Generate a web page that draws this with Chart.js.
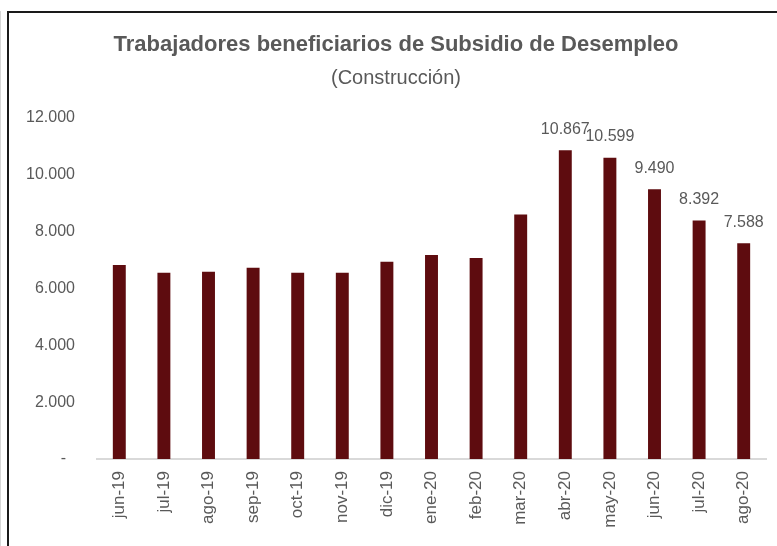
<!DOCTYPE html>
<html>
<head>
<meta charset="utf-8">
<script src="https://cdn.jsdelivr.net/npm/chart.js@4"></script>
<style>
  body { margin: 0; background: #fff; }
  #wrap { position: relative; width: 777px; height: 546px; overflow: hidden; }
  #frame { position: absolute; left: 7px; top: 11px; width: 780px; height: 560px;
           border-top: 2px solid #1a1a1a; border-left: 2px solid #1a1a1a; }
  #shade { position: absolute; left: 0; top: 11px; width: 1px; height: 560px; background: #d6d6d6; }
  canvas { position: absolute; left: 0; top: 0; }
</style>
</head>
<body>
<div id="wrap">
  <div id="shade"></div>
  <div id="frame"></div>
  <canvas id="myChart" width="777" height="546"></canvas>
</div>
<script>
const months = ["jun-19", "jul-19", "ago-19", "sep-19", "oct-19", "nov-19", "dic-19",
                "ene-20", "feb-20", "mar-20", "abr-20", "may-20", "jun-20", "jul-20", "ago-20"];
const trabajadores = [6830, 6550, 6590, 6730, 6550, 6550, 6940,
                      7180, 7070, 8600, 10867, 10599, 9490, 8392, 7588];
// only the last months carry a value label in the original
const labeledMonths = ["abr-20", "may-20", "jun-20", "jul-20", "ago-20"];
const yTicks = [0, 2000, 4000, 6000, 8000, 10000, 12000];

const titleText = "Trabajadores beneficiarios de Subsidio de Desempleo";
const subtitleText = "(Construcción)";

const grey = "#595959";
const fontFam = "'Liberation Sans', Arial, sans-serif";

function fmt(v) {
    if (v === 0) return "-  ";
    return v.toString().replace(/\B(?=(\d{3})+(?!\d))/g, ".");
}

const titlesPlugin = {
    id: "titles",
    afterDraw(chart) {
        const ctx = chart.ctx;
        ctx.save();
        ctx.fillStyle = grey;
        ctx.textAlign = "center";
        ctx.textBaseline = "middle";
        ctx.font = "bold 22px " + fontFam;
        ctx.fillText(titleText, 396, 45);
        ctx.font = "20px " + fontFam;
        ctx.fillText(subtitleText, 396, 78);
        ctx.restore();
    }
};

const valueLabels = {
    id: "valueLabels",
    afterDatasetsDraw(chart) {
        const ctx = chart.ctx;
        const meta = chart.getDatasetMeta(0);
        ctx.save();
        ctx.fillStyle = grey;
        ctx.font = "16px " + fontFam;
        ctx.textAlign = "center";
        ctx.textBaseline = "middle";
        meta.data.forEach((bar, i) => {
            if (!labeledMonths.includes(months[i])) return;
            ctx.fillText(fmt(trabajadores[i]), bar.x, bar.y - 21);
        });
        ctx.restore();
    }
};

const myChartRef = document.getElementById("myChart").getContext("2d");
new Chart(myChartRef, {
    type: "bar",
    data: {
        labels: months,
        datasets: [
            {
                label: "Trabajadores",
                backgroundColor: "#5e0c0f",
                data: trabajadores,
                categoryPercentage: 1,
                barPercentage: 0.29
            }
        ]
    },
    options: {
        responsive: false,
        animation: false,
        layout: { padding: { top: 118, left: 0, right: 11, bottom: 0 } },
        plugins: {
            legend: { display: false },
            title: { display: false },
            tooltip: { enabled: false }
        },
        scales: {
            x: {
                grid: { display: false, drawTicks: false },
                border: { display: true, color: "#d9d9d9", width: 2 },
                ticks: {
                    color: grey,
                    font: { size: 17, family: fontFam },
                    minRotation: 90,
                    maxRotation: 90,
                    padding: 12,
                    autoSkip: false
                },
                afterFit(scale) { scale.height = 87; }
            },
            y: {
                min: 0,
                max: 12000,
                grid: { display: false, drawTicks: false },
                border: { display: false },
                afterBuildTicks(scale) { scale.ticks = yTicks.map(v => ({ value: v })); },
                ticks: {
                    color: grey,
                    font: { size: 16, family: fontFam },
                    padding: 22,
                    callback: (v) => fmt(v)
                },
                afterFit(scale) { scale.width = 97; }
            }
        }
    },
    plugins: [titlesPlugin, valueLabels]
});
</script>
</body>
</html>
